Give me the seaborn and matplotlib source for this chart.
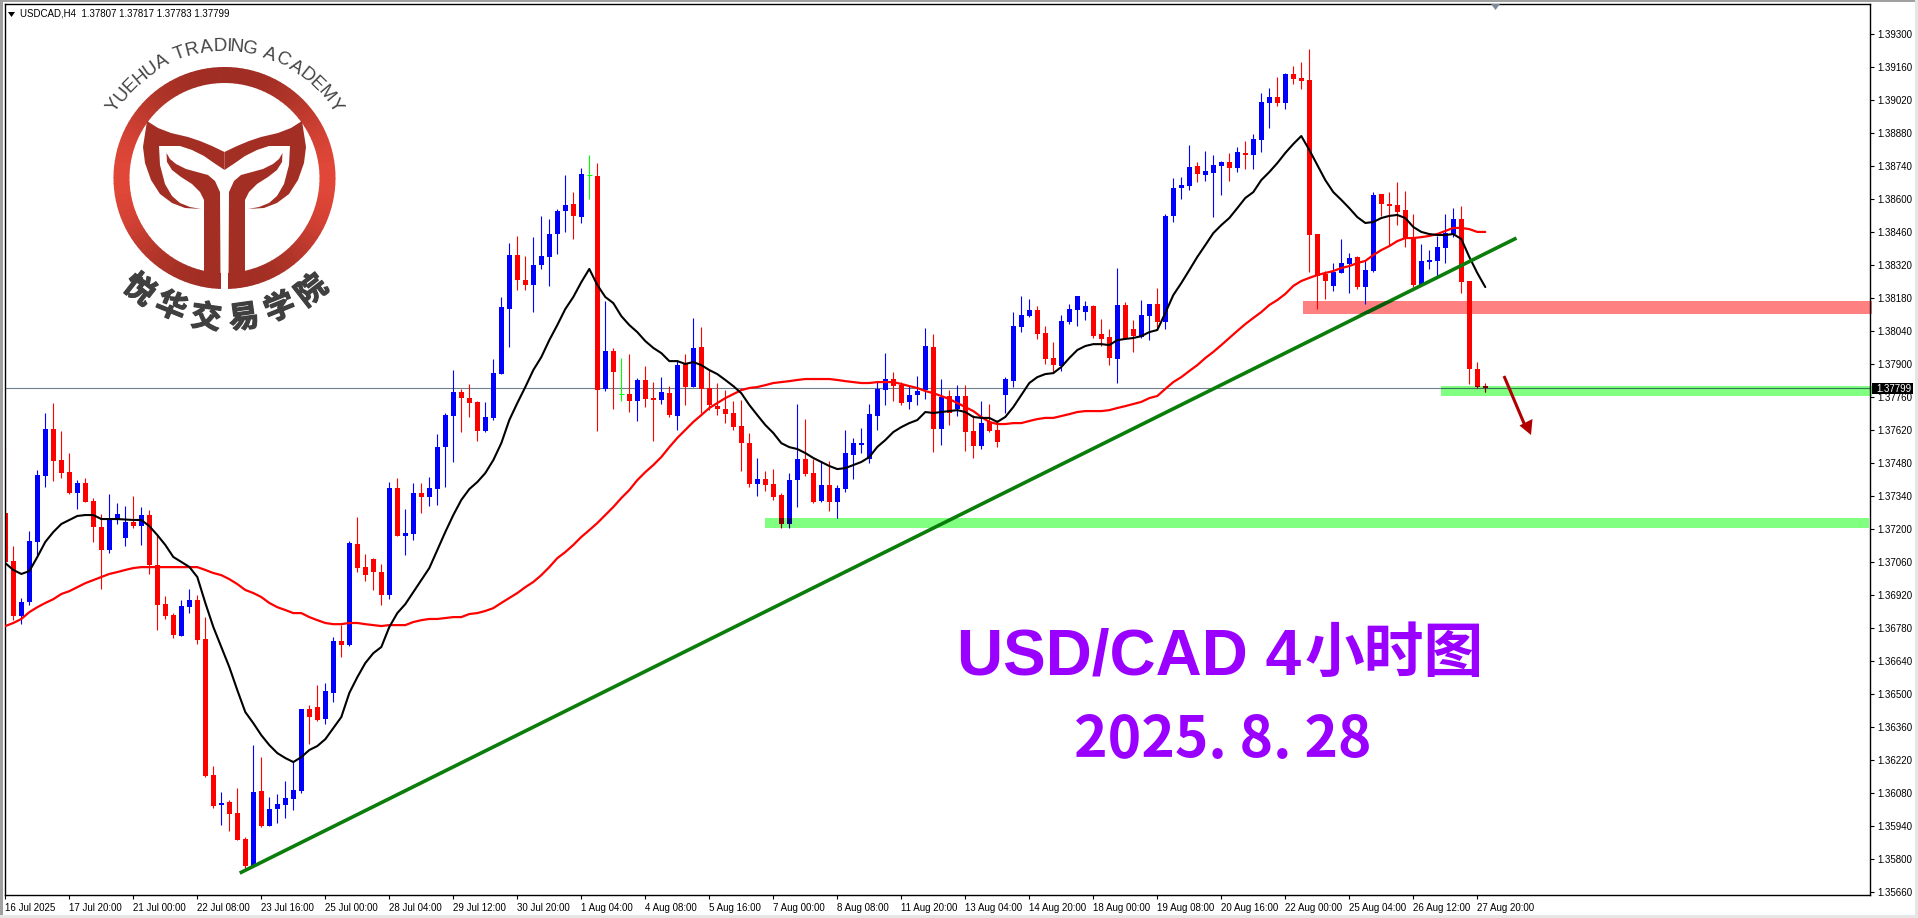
import numpy as np
import pandas as pd
import seaborn as sns
import matplotlib
matplotlib.use('Agg')
from matplotlib import pyplot as plt
from matplotlib import patheffects
from matplotlib.patches import Rectangle, Polygon, Wedge
from matplotlib.textpath import TextPath
from matplotlib.font_manager import FontProperties

# prices are kept as points above this level
price_base = 1.35

open_pts = [
    2268, 2064, 1830, 1890, 2145, 2425, 2624, 2492, 2441, 2352,
    2395, 2318, 2208, 2111, 2242, 2162, 2229, 2212, 2259, 2047,
    1881, 1835, 1745, 1868, 1898, 1733, 1156, 1029, 1041, 994,
    884, 770, 1088, 939, 1011, 1029, 1054, 1088, 1436, 1444,
    1393, 1504, 1724, 1707, 2136, 2039, 2072, 2017, 1919, 2373,
    2170, 2178, 2352, 2335, 2369, 2548, 2679, 2781, 2755, 2739,
    2615, 2671, 2858, 3133, 3362, 3256, 3235, 3320, 3354, 3451,
    3549, 3578, 3523, 3701, 3697, 2794, 2955, 2772, 2772, 2743,
    2832, 2755, 2747, 2776, 2679, 2900, 2802, 2972, 2798, 2722,
    2709, 2692, 2636, 2564, 2390, 2412, 2390, 2344, 2221, 2407,
    2497, 2437, 2318, 2386, 2314, 2369, 2513, 2556, 2497, 2679,
    2789, 2836, 2810, 2739, 2768, 2789, 2972, 2624, 2764, 2709,
    2764, 2615, 2552, 2654, 2620, 2768, 2827, 3057, 3103, 3129,
    3031, 2925, 2891, 3078, 3129, 3120, 3146, 3027, 3014, 2921,
    3150, 3048, 3014, 3103, 3154, 3078, 3528, 3646, 3655, 3740,
    3701, 3710, 3740, 3757, 3731, 3795, 3786, 3850, 4007, 4032,
    4007, 4130, 4113, 4105, 3451, 3282, 3231, 3286, 3324, 3354,
    3226, 3294, 3621, 3578, 3574, 3553, 3434, 3235, 3332, 3337,
    3392, 3451, 3515, 3252, 2878, 2807]
high_pts = [
    2548, 2128, 1907, 2191, 2450, 2692, 2734, 2615, 2522, 2407,
    2416, 2331, 2263, 2348, 2310, 2297, 2339, 2293, 2280, 2178,
    1915, 1843, 1898, 1945, 1919, 1826, 1194, 1084, 1050, 1101,
    893, 1283, 1232, 1062, 1075, 1130, 1215, 1436, 1453, 1537,
    1546, 1741, 1792, 2149, 2250, 2094, 2077, 2051, 2399, 2416,
    2284, 2395, 2395, 2420, 2603, 2692, 2874, 2794, 2815, 2743,
    2739, 2921, 3184, 3413, 3443, 3358, 3438, 3528, 3515, 3557,
    3701, 3629, 3731, 3786, 3752, 3167, 2968, 2925, 2942, 2840,
    2891, 2823, 2844, 2806, 2917, 2942, 3095, 3057, 2874, 2819,
    2789, 2743, 2747, 2607, 2501, 2445, 2454, 2352, 2437, 2730,
    2666, 2497, 2484, 2488, 2386, 2620, 2586, 2628, 2730, 2823,
    2946, 2866, 2823, 2806, 2849, 3052, 3027, 2836, 2789, 2810,
    2810, 2683, 2743, 2730, 2662, 2844, 3120, 3188, 3175, 3146,
    3061, 2993, 3108, 3154, 3188, 3167, 3150, 3091, 3048, 3307,
    3163, 3086, 3171, 3154, 3222, 3536, 3689, 3693, 3829, 3757,
    3803, 3786, 3761, 3795, 3820, 3846, 3875, 4049, 4071, 4117,
    4134, 4164, 4181, 4236, 3451, 3294, 3328, 3430, 3370, 3358,
    3337, 3629, 3621, 3629, 3672, 3634, 3536, 3409, 3383, 3443,
    3536, 3561, 3570, 3252, 2908, 2817]
low_pts = [
    1784, 1813, 1796, 1877, 2081, 2378, 2403, 2416, 2348, 2284,
    2314, 2145, 1945, 2098, 2221, 2128, 2204, 2132, 2009, 1771,
    1818, 1737, 1745, 1843, 1711, 1148, 1016, 944, 918, 880,
    753, 766, 935, 939, 952, 973, 1007, 1079, 1287, 1385,
    1372, 1465, 1656, 1703, 2017, 1979, 1941, 1877, 1903, 2170,
    2089, 2153, 2267, 2297, 2301, 2378, 2484, 2611, 2675, 2573,
    2611, 2662, 2858, 2972, 3214, 3214, 3120, 3303, 3231, 3366,
    3460, 3430, 3498, 3600, 2615, 2785, 2709, 2743, 2696, 2658,
    2717, 2573, 2730, 2675, 2620, 2726, 2802, 2692, 2704, 2683,
    2649, 2620, 2445, 2378, 2339, 2361, 2323, 2204, 2204, 2293,
    2425, 2310, 2314, 2276, 2246, 2356, 2412, 2522, 2480, 2620,
    2726, 2743, 2726, 2709, 2726, 2751, 2526, 2556, 2641, 2679,
    2530, 2501, 2539, 2611, 2548, 2692, 2802, 3035, 3099, 3006,
    2900, 2862, 2870, 3069, 3061, 3086, 3010, 2976, 2895, 2819,
    3006, 2951, 3010, 3001, 3044, 3048, 3502, 3600, 3638, 3672,
    3676, 3523, 3617, 3676, 3714, 3727, 3727, 3799, 3901, 3994,
    3981, 4088, 4066, 3290, 3133, 3176, 3209, 3286, 3201, 3218,
    3154, 3290, 3528, 3400, 3489, 3396, 3226, 3235, 3303, 3269,
    3328, 3438, 3201, 2815, 2798, 2783]
close_pts = [
    2060, 1830, 1890, 2149, 2429, 2624, 2488, 2437, 2352, 2395,
    2314, 2208, 2111, 2238, 2263, 2229, 2212, 2259, 2047, 1877,
    1830, 1750, 1873, 1898, 1728, 1152, 1024, 1037, 990, 880,
    770, 1084, 939, 1011, 1033, 1058, 1092, 1436, 1402, 1389,
    1512, 1724, 1707, 2140, 2034, 2004, 2017, 1919, 2373, 2170,
    2183, 2352, 2335, 2373, 2548, 2683, 2781, 2755, 2734, 2615,
    2675, 2862, 3142, 3362, 3256, 3235, 3320, 3358, 3451, 3549,
    3574, 3528, 3706, 3701, 2789, 2955, 2866, 2772, 2743, 2832,
    2751, 2747, 2781, 2683, 2895, 2802, 2968, 2794, 2726, 2709,
    2687, 2632, 2564, 2390, 2412, 2386, 2335, 2221, 2407, 2497,
    2433, 2314, 2386, 2314, 2373, 2522, 2564, 2564, 2687, 2794,
    2836, 2806, 2734, 2768, 2785, 2976, 2624, 2760, 2692, 2764,
    2611, 2552, 2649, 2615, 2569, 2836, 3061, 3108, 3129, 3027,
    2921, 2895, 3082, 3133, 3188, 3146, 3018, 3006, 2925, 3150,
    3006, 3018, 3108, 3154, 3078, 3528, 3646, 3659, 3735, 3706,
    3718, 3744, 3757, 3731, 3799, 3786, 3854, 4011, 4032, 4007,
    4130, 4109, 4100, 3447, 3273, 3252, 3290, 3328, 3349, 3226,
    3298, 3617, 3578, 3570, 3544, 3430, 3235, 3337, 3341, 3396,
    3455, 3515, 3248, 2878, 2802, 2799]
# black moving average
fast_ma_pts = [
    2055, 2026, 2009, 2021, 2081, 2145, 2187, 2221, 2238, 2255,
    2259, 2259, 2242, 2242, 2242, 2240, 2238, 2238, 2212, 2174,
    2132, 2081, 2060, 2039, 1996, 1886, 1784, 1699, 1614, 1516,
    1423, 1376, 1325, 1283, 1249, 1228, 1211, 1232, 1262, 1279,
    1308, 1355, 1402, 1504, 1571, 1631, 1673, 1699, 1784, 1843,
    1881, 1932, 1983, 2034, 2111, 2187, 2259, 2323, 2369, 2399,
    2437, 2492, 2564, 2662, 2734, 2802, 2874, 2929, 3001, 3065,
    3133, 3184, 3247, 3303, 3235, 3184, 3158, 3103, 3065, 3035,
    2997, 2968, 2946, 2912, 2912, 2900, 2908, 2895, 2874, 2857,
    2832, 2806, 2776, 2726, 2683, 2641, 2607, 2564, 2547, 2539,
    2522, 2501, 2484, 2467, 2454, 2458, 2471, 2484, 2505, 2548,
    2577, 2611, 2632, 2649, 2662, 2696, 2692, 2696, 2700, 2704,
    2696, 2675, 2671, 2671, 2654, 2675, 2717, 2768, 2819, 2844,
    2857, 2861, 2887, 2925, 2959, 2976, 2984, 2984, 2980, 3001,
    3006, 3010, 3018, 3035, 3044, 3116, 3192, 3243, 3298, 3354,
    3404, 3455, 3489, 3519, 3561, 3604, 3629, 3680, 3714, 3752,
    3795, 3833, 3867, 3808, 3744, 3680, 3629, 3596, 3561, 3523,
    3498, 3502, 3519, 3528, 3532, 3519, 3481, 3460, 3451, 3447,
    3447, 3451, 3430, 3354, 3286, 3226]
# red moving average
slow_ma_pts = [
    1788, 1801, 1818, 1847, 1868, 1886, 1902, 1924, 1936, 1953,
    1970, 1983, 1996, 2009, 2017, 2026, 2034, 2038, 2038, 2038,
    2038, 2038, 2038, 2038, 2038, 2026, 2013, 2004, 1987, 1966,
    1941, 1928, 1911, 1886, 1868, 1856, 1843, 1843, 1826, 1813,
    1801, 1796, 1796, 1801, 1801, 1796, 1792, 1788, 1792, 1792,
    1792, 1805, 1813, 1818, 1818, 1822, 1826, 1826, 1839, 1843,
    1852, 1864, 1886, 1907, 1928, 1953, 1975, 2004, 2038, 2076,
    2102, 2132, 2166, 2195, 2225, 2259, 2293, 2331, 2365, 2407,
    2441, 2471, 2505, 2547, 2586, 2620, 2654, 2683, 2713, 2734,
    2755, 2772, 2789, 2798, 2802, 2810, 2819, 2823, 2827, 2832,
    2836, 2836, 2836, 2836, 2832, 2827, 2823, 2819, 2819, 2823,
    2823, 2823, 2815, 2806, 2798, 2785, 2776, 2764, 2751, 2734,
    2717, 2700, 2675, 2654, 2645, 2645, 2649, 2649, 2658, 2666,
    2671, 2671, 2679, 2687, 2696, 2700, 2700, 2700, 2704, 2713,
    2721, 2730, 2739, 2755, 2764, 2794, 2823, 2844, 2870, 2895,
    2925, 2951, 2980, 3010, 3040, 3069, 3095, 3120, 3150, 3171,
    3197, 3231, 3252, 3265, 3277, 3286, 3294, 3307, 3315, 3328,
    3337, 3362, 3383, 3400, 3421, 3434, 3434, 3438, 3443, 3451,
    3464, 3477, 3477, 3472, 3460, 3460]

time_labels = ['16 Jul 2025', '17 Jul 20:00', '21 Jul 00:00', '22 Jul 08:00', '23 Jul 16:00',
               '25 Jul 00:00', '28 Jul 04:00', '29 Jul 12:00', '30 Jul 20:00', '1 Aug 04:00',
               '4 Aug 08:00', '5 Aug 16:00', '7 Aug 00:00', '8 Aug 08:00', '11 Aug 20:00',
               '13 Aug 04:00', '14 Aug 20:00', '18 Aug 00:00', '19 Aug 08:00', '20 Aug 16:00',
               '22 Aug 00:00', '25 Aug 04:00', '26 Aug 12:00', '27 Aug 20:00']
price_ticks = [1.39300, 1.39160, 1.39020, 1.38880, 1.38740, 1.38600, 1.38460, 1.38320, 1.38180,
               1.38040, 1.37900, 1.37760, 1.37620, 1.37480, 1.37340, 1.37200, 1.37060, 1.36920,
               1.36780, 1.36640, 1.36500, 1.36360, 1.36220, 1.36080, 1.35940, 1.35800, 1.35660]
last_price = 1.37799

# (first bar, last bar, low price, high price)
pink_zone = (162.2, 233.35, 1.38112, 1.38167)
green_zone_top = (179.5, 233.35, 1.37765, 1.37806)
green_zone_low = (95.0, 233.0, 1.37204, 1.37246)
trend_bars = [29.3, 188.9]
trend_prices = [1.35740, 1.38434]

sns.set_style('white')
plt.rcParams['font.family'] = ['Liberation Sans', 'DejaVu Sans']

df = pd.DataFrame({'open': open_pts, 'high': high_pts, 'low': low_pts, 'close': close_pts,
                   'fast': fast_ma_pts, 'slow': slow_ma_pts})
df = price_base + df / 1e5
df['bar'] = np.arange(len(df))
df['body_bottom'] = df[['open', 'close']].min(axis=1)
df['body_size'] = (df['close'] - df['open']).abs()

fig = plt.figure(figsize=(19.18, 9.18), dpi=100, facecolor='white')
ax = fig.add_axes([5 / 1918, 23 / 918, 1865 / 1918, 891 / 918])


def draw_candles(data, up, down, flat, z, clip=None):
    colors = np.where(data['close'] > data['open'], up, np.where(data['close'] < data['open'], down, flat))
    wicks = ax.vlines(data['bar'], data['low'], data['high'], colors=colors, lw=0.8, zorder=z)
    bars = ax.bar(data['bar'], data['body_size'], bottom=data['body_bottom'], width=0.625,
                  color=colors, linewidth=0, zorder=z)
    flats = data[data['close'] == data['open']]
    ticks = ax.hlines(flats['close'], flats['bar'] - 0.33, flats['bar'] + 0.33, colors=flat, lw=0.8, zorder=z)
    if clip is not None:
        wicks.set_clip_path(clip)
        ticks.set_clip_path(clip)
        for b in bars:
            b.set_clip_path(clip)


def add_zone(zone, color):
    rect = Rectangle((zone[0], zone[2]), zone[1] - zone[0], zone[3] - zone[2], facecolor=color,
                     edgecolor='none', zorder=1, clip_on=False)
    ax.add_patch(rect)
    return rect


pink = add_zone(pink_zone, '#FF8080')
green_top = add_zone(green_zone_top, '#80FF80')
green_low = add_zone(green_zone_low, '#80FF80')

ax.axhline(last_price, color='#708090', lw=0.8, zorder=1.5)
line = ax.axhline(last_price, color='#2f7a52', lw=0.75, zorder=1.6)
line.set_clip_path(green_top)

draw_candles(df, '#0000FF', '#FF0000', '#00FF00', 2)
# zones darken whatever sits under them
for zone in [green_top, green_low]:
    draw_candles(df, '#000080', '#800000', '#008000', 2.1, clip=zone)

sns.lineplot(data=df, x='bar', y='slow', color='#FF0000', lw=1.6, ax=ax, zorder=3)
sns.lineplot(data=df, x='bar', y='fast', color='#000000', lw=1.5, ax=ax, zorder=4)
ax.plot(trend_bars, trend_prices, color='#0a7d0a', lw=2.6, zorder=5, solid_capstyle='butt')
dark = ax.plot(trend_bars, trend_prices, color='#0b5a0b', lw=2.6, zorder=5.1, solid_capstyle='butt')[0]
dark.set_clip_path(pink)

ax.set_xlim(-0.04, 233.09)
ax.set_ylim(1.35647, 1.39427)
ax.set_xlabel('')
ax.set_ylabel('')
ax.set_xticks(df['bar'].values[::8][:len(time_labels)])
ax.set_xticklabels(time_labels, ha='left', fontsize=7, color='black')
ax.set_yticks(price_ticks)
ax.set_yticklabels(['%.5f' % p for p in price_ticks], fontsize=7, color='black')
ax.yaxis.tick_right()
ax.tick_params(axis='x', bottom=True, length=3, width=0.8, pad=3, color='black')
ax.tick_params(axis='y', right=True, left=False, length=3, width=0.8, pad=2, color='black')
for s in ax.spines.values():
    s.set_color('black')
    s.set_linewidth(1.0)

# everything that is not data goes on a pixel overlay
ov = fig.add_axes([0, 0, 1, 1], facecolor='none')
ov.set_xlim(0, 1918)
ov.set_ylim(918, 0)
ov.axis('off')
ov.set_zorder(10)

# window frame
ov.add_patch(Rectangle((0, 0), 1918, 2, color='#a0a0a0', lw=0))
ov.add_patch(Rectangle((0, 0), 2.5, 918, color='#a0a0a0', lw=0))
ov.add_patch(Rectangle((0, 915), 1918, 3, color='#e6e6e6', lw=0))
ov.add_patch(Rectangle((1915, 0), 3, 918, color='#e6e6e6', lw=0))

# header
ov.add_patch(Polygon([(8, 12), (15, 12), (11.5, 17)], color='black', lw=0))
ov.text(20, 14, 'USDCAD,H4  1.37807 1.37817 1.37783 1.37799', fontsize=7, va='center', color='black')
ov.add_patch(Polygon([(1491, 4), (1500, 4), (1495.5, 10)], color='#7d8b99', lw=0))

# current price box
ov.add_patch(Rectangle((1872, 383), 41, 11, color='black', lw=0))
ov.text(1876, 388.5, '1.37799', fontsize=7, va='center', color='white')

# down arrow
ov.plot([1504, 1526], [376, 428], color='#b00000', lw=2.2, solid_capstyle='butt')
ov.add_patch(Polygon([(1519.5, 425.5), (1532.5, 419), (1531, 435)], color='#b00000', lw=0))

# title
purple = '#9900FF'
ov.text(957, 675, 'USD/CAD 4', fontsize=46, fontweight='bold', family='Liberation Sans', color=purple, va='baseline')
ov.text(1305, 672, '小时图', fontsize=43, fontweight='bold', family='Noto Sans CJK SC', color=purple, va='baseline')
ov.text(1223, 758, '2025. 8. 28', fontsize=41, fontweight='bold', family='Noto Sans CJK SC', color=purple,
        va='baseline', ha='center')

# logo ring, darker at top and bottom
cx, cy = 224.5, 178
for a in range(0, 360, 3):
    t = abs(np.cos(np.radians(a + 1.5))) ** 3
    col = np.array([0.63, 0.18, 0.14]) * (1 - t) + np.array([0.88, 0.28, 0.22]) * t
    ov.add_patch(Wedge((cx, cy), 111, a, a + 3.4, width=16, color=col, lw=0))

brand = '#a32f24'
wing_left = [(147, 121), (158, 128), (171, 133), (188, 137), (200, 141), (212, 146), (224.5, 152),
             (224.5, 170), (214, 163), (204, 156), (192, 150), (180, 146), (159, 146), (160, 165),
             (165, 184), (172, 196), (180, 203), (190, 207), (201, 209), (185, 208), (172, 203),
             (160, 194), (151, 180), (145, 163), (143, 147)]
stem_left = [(166.5, 153), (170, 159), (176, 164), (186, 169), (208, 175), (215, 181), (220, 192),
             (220.5, 282), (215, 287), (210, 288), (204, 285), (200, 278), (204, 272), (204, 200),
             (200, 192), (192, 184), (181, 177), (172, 170), (167, 162)]


def mirrored(pts):
    return [(2 * cx - x, y) for x, y in pts]


# slot between the two stems cuts the ring
ov.add_patch(Rectangle((cx - 3.8, 168), 7.6, 125, color='white', lw=0))
for pts in [wing_left, mirrored(wing_left), stem_left, mirrored(stem_left)]:
    ov.add_patch(Polygon(pts, color=brand, lw=0))

# arc lettering
arc_text = 'YUEHUA TRADING ACADEMY'
fp = FontProperties(family='Liberation Sans')
arc_pt = 13.5
arc_size = arc_pt * 100 / 72
advances = []
for ch in arc_text:
    if ch == ' ':
        advances.append(arc_size * 0.28)
    else:
        advances.append(TextPath((0, 0), ch, size=arc_size, prop=fp).get_extents().width + 1.8)
radius = 127
span = sum(advances) / radius
pos = -span / 2
for ch, w in zip(arc_text, advances):
    ang = pos + w / 2 / radius
    ov.text(cx + radius * np.sin(ang), cy - radius * np.cos(ang), ch, fontsize=arc_pt, family='Liberation Sans',
            color='#444444', rotation=-np.degrees(ang), rotation_mode='anchor', ha='center', va='baseline')
    pos += w / radius

name_chars = ['悦', '华', '交', '易', '学', '院']
name_x = [139, 171, 206, 244, 280, 312]
name_y = [290, 307, 318, 318, 308, 291]
name_rot = [-38, -22, -8, 8, 22, 38]
for ch, x, y, r in zip(name_chars, name_x, name_y, name_rot):
    ov.text(x, y, ch, fontsize=22, fontweight='bold', family='Noto Sans CJK SC', color='#404040', rotation=r,
            rotation_mode='anchor', ha='center', va='center',
            path_effects=[patheffects.withStroke(linewidth=0.9, foreground='#404040')])

fig.savefig('out.png', dpi=100, facecolor='white')
